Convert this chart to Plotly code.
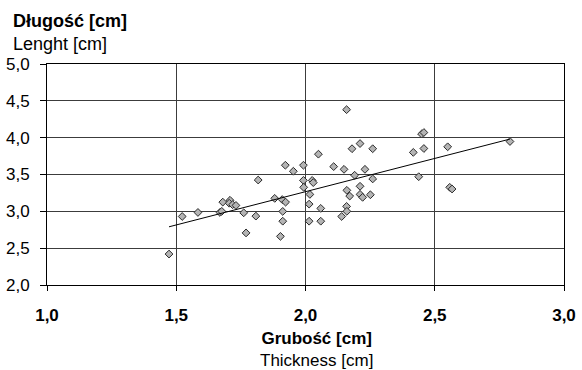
import numpy as np
import plotly.graph_objects as go

# Thickness [cm] (x) and Length [cm] (y)
thickness = [1.472, 1.523, 1.584, 1.669, 1.676, 1.680, 1.708, 1.705, 1.718, 1.731,
             1.761, 1.770, 1.808, 1.817, 2.050, 1.922, 1.953, 1.992, 1.992, 2.026,
             2.030, 1.993, 2.017, 1.881, 1.910, 1.923, 2.014, 2.059, 1.912, 1.912,
             2.014, 2.059, 1.903, 2.159, 2.180, 2.211, 2.260, 2.109, 2.149, 2.230,
             2.190, 2.260, 2.160, 2.211, 2.171, 2.211, 2.221, 2.251, 2.159, 2.160,
             2.140, 2.449, 2.458, 2.417, 2.458, 2.550, 2.438, 2.558, 2.567, 2.791]
length = [2.42, 2.93, 2.985, 2.985, 3.00, 3.125, 3.15, 3.11, 3.09, 3.08,
          2.98, 2.707, 2.935, 3.425, 3.776, 3.626, 3.544, 3.626, 3.42, 3.42,
          3.39, 3.326, 3.23, 3.176, 3.16, 3.125, 3.098, 3.04, 2.999, 2.866,
          2.866, 2.866, 2.66, 4.38, 3.85, 3.92, 3.85, 3.607, 3.57, 3.57,
          3.49, 3.44, 3.285, 3.34, 3.207, 3.23, 3.19, 3.225, 3.067, 3.00,
          2.93, 4.049, 4.07, 3.80, 3.853, 3.876, 3.47, 3.326, 3.303, 3.948]

x_ticks = [1.0, 1.5, 2.0, 2.5, 3.0]
y_ticks = [2.0, 2.5, 3.0, 3.5, 4.0, 4.5, 5.0]

# linear trendline from the data
xa = np.array(thickness)
ya = np.array(length)
slope, intercept = np.polyfit(xa, ya, 1)
tx = np.array([xa.min(), xa.max()])
ty = slope * tx + intercept

FONT = "Arial, Liberation Sans, sans-serif"
W, H = 582, 370
ML, MR, MT, MB = 47, 18, 64, 85
PW, PH = W - ML - MR, H - MT - MB

fig = go.Figure()
fig.add_trace(go.Scatter(
    x=thickness, y=length, mode="markers",
    marker=dict(symbol="diamond", size=6, color="#b4b4b4",
                line=dict(color="#2a2a2a", width=1)),
    showlegend=False, hoverinfo="x+y"))
fig.add_trace(go.Scatter(
    x=tx, y=ty, mode="lines", line=dict(color="black", width=1),
    showlegend=False, hoverinfo="skip"))

fig.update_layout(
    width=W, height=H,
    margin=dict(l=ML, r=MR, t=MT, b=MB, autoexpand=False),
    paper_bgcolor="white", plot_bgcolor="white",
    separators=", ",
    font=dict(family=FONT, color="black"),
    xaxis=dict(range=[1.0, 3.0], tickvals=x_ticks, tickformat=".1f",
               showgrid=True, gridcolor="#3c3c3c", gridwidth=1,
               showline=True, linecolor="black", linewidth=1, mirror=True,
               ticks="outside", ticklen=5, tickcolor="black",
               tickfont=dict(family=FONT, size=17, color="black", weight="bold"),
               ticklabelstandoff=10, zeroline=False, automargin=False),
    yaxis=dict(range=[2.0, 5.0], tickvals=y_ticks, tickformat=".1f",
               showgrid=True, gridcolor="#3c3c3c", gridwidth=1,
               showline=True, linecolor="black", linewidth=1, mirror=True,
               ticks="outside", ticklen=6, tickcolor="black",
               tickfont=dict(family=FONT, size=17, color="black"),
               ticklabelstandoff=7, zeroline=False, automargin=False),
)

def px_x(p):
    return (p - ML) / PW

def px_y(p):
    return (H - MB - p) / PH

annots = [
    dict(text="<b>Długość [cm]</b><br>Lenght [cm]", x=px_x(12), y=px_y(32),
         xanchor="left", align="left", size=18),
    dict(text="<b>Grubość [cm]</b><br>Thickness [cm]", x=px_x(316), y=px_y(349),
         xanchor="center", align="center", size=17),
]
for a in annots:
    size = a.pop("size")
    fig.add_annotation(xref="paper", yref="paper", yanchor="middle",
                       showarrow=False, font=dict(family=FONT, size=size, color="black"),
                       borderpad=0, **a)

fig.write_html("out.html")
